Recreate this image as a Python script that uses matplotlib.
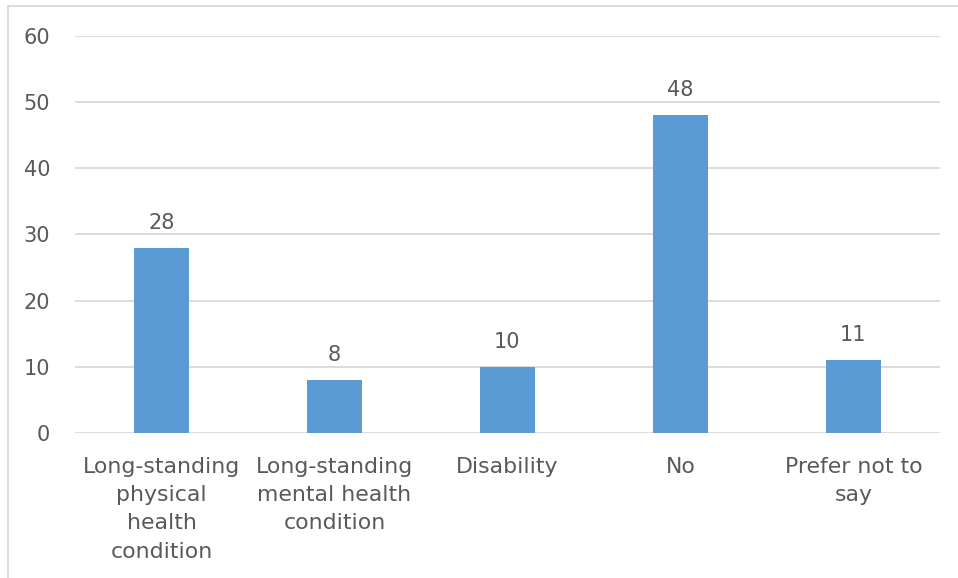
import matplotlib
matplotlib.use("Agg")
import matplotlib.pyplot as plt
from matplotlib.lines import Line2D

categories = ["Long-standing\nphysical\nhealth\ncondition",
              "Long-standing\nmental health\ncondition",
              "Disability", "No", "Prefer not to\nsay"]
values = [28, 8, 10, 48, 11]
yticks = [0, 10, 20, 30, 40, 50, 60]

plt.rcParams['font.family'] = ['DejaVu Sans']
text_color = "#595959"
bar_color = "#5B9BD5"
grid_color = "#D9D9D9"

fig = plt.figure(figsize=(9.58, 5.78), dpi=100)
ax = fig.add_axes([0.0783, 0.2509, 0.9027, 0.6868])

x = range(len(categories))
ax.bar(x, values, width=0.32, color=bar_color, zorder=3)
for xi, v in zip(x, values):
    ax.text(xi, v + 2.3, str(v), ha="center", va="bottom", fontsize=15, color=text_color)

ax.set_xlim(-0.5, len(categories) - 0.5)
ax.set_ylim(0, 60)
ax.set_yticks(yticks)
ax.set_yticklabels([str(t) for t in yticks], fontsize=15, color=text_color)
ax.set_xticks(list(x))
ax.set_xticklabels(categories, fontsize=15.8, color=text_color, linespacing=1.52, va="top")
ax.tick_params(axis="both", length=0)
ax.tick_params(axis="y", pad=18)
ax.tick_params(axis="x", pad=17)
ax.grid(axis="y", color=grid_color, linewidth=1.3, zorder=0)
for s in ax.spines.values():
    s.set_visible(False)

# outer chart frame (left and top edges)
fig.add_artist(Line2D([8/958, 8/958], [0, 1 - 6/578], transform=fig.transFigure, color=grid_color, lw=1.3))
fig.add_artist(Line2D([8/958, 1], [1 - 6/578, 1 - 6/578], transform=fig.transFigure, color=grid_color, lw=1.3))

fig.savefig("out.png", dpi=100)
